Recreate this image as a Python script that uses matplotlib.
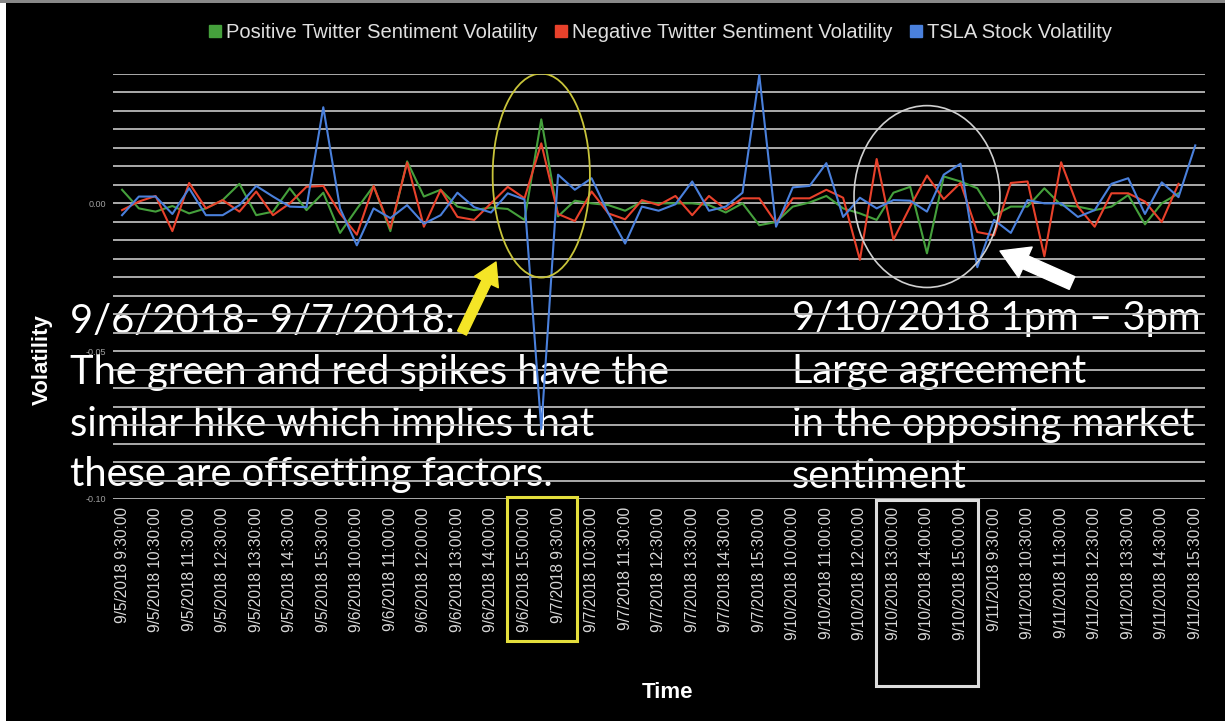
import numpy as np
import matplotlib.pyplot as plt
from matplotlib.patches import Ellipse, Rectangle, FancyArrowPatch
from matplotlib.lines import Line2D

W, H = 1225, 721

# half-hourly volatility, 9/5/2018 9:30 -> 9/11/2018 15:30 (65 points)
positive_vol = [
    0.0046, -0.0017, -0.0028, -0.0009, -0.0034, -0.0017, 0.0011, 0.0066, -0.0040, -0.0028,
    0.0051, -0.0023, 0.0036, -0.0100, -0.0019, 0.0059, -0.0094, 0.0142, 0.0023, 0.0046,
    -0.0011, -0.0023, -0.0014, -0.0019, -0.0056, 0.0284, -0.0044, 0.0009, 0.0000, -0.0006,
    -0.0025, 0.0006, 0.0000, 0.0000, 0.0000, -0.0006, -0.0031, 0.0000, -0.0074, -0.0063,
    -0.0011, 0.0003, 0.0025, -0.0017, -0.0034, -0.0056, 0.0036, 0.0056, -0.0169, 0.0091,
    0.0074, 0.0051, -0.0040, -0.0011, -0.0011, 0.0051, -0.0006, -0.0011, -0.0023, -0.0011,
    0.0028, -0.0071, 0.0000, 0.0034, np.nan,
]
negative_vol = [
    -0.0023, 0.0006, 0.0025, -0.0094, 0.0069, -0.0017, 0.0011, -0.0028, 0.0040, -0.0040,
    0.0000, 0.0056, 0.0059, -0.0034, -0.0106, 0.0059, -0.0085, 0.0138, -0.0079, 0.0046,
    -0.0046, -0.0056, 0.0000, 0.0056, 0.0017, 0.0203, -0.0036, -0.0060, 0.0040, -0.0034,
    -0.0054, 0.0011, -0.0006, 0.0025, -0.0040, 0.0025, -0.0021, 0.0017, 0.0017, -0.0066,
    0.0017, 0.0017, 0.0046, 0.0019, -0.0191, 0.0150, -0.0123, -0.0011, 0.0094, 0.0014,
    0.0069, -0.0097, -0.0108, 0.0069, 0.0074, -0.0179, 0.0139, -0.0011, -0.0079, 0.0034,
    0.0034, 0.0006, -0.0063, 0.0066, np.nan,
]
tsla_vol = [
    -0.0040, 0.0023, 0.0023, -0.0036, 0.0051, -0.0040, -0.0040, -0.0006, 0.0059, 0.0023,
    -0.0011, -0.0013, 0.0325, -0.0017, -0.0142, -0.0017, -0.0050, -0.0006, -0.0069, -0.0040,
    0.0036, -0.0013, -0.0031, 0.0034, 0.0013, -0.0763, 0.0097, 0.0046, 0.0085, -0.0034,
    -0.0136, -0.0011, -0.0025, -0.0003, 0.0074, -0.0025, -0.0011, 0.0036, 0.0434, -0.0079,
    0.0054, 0.0059, 0.0136, -0.0046, 0.0019, -0.0017, 0.0011, 0.0009, -0.0028, 0.0097,
    0.0134, -0.0216, -0.0056, -0.0100, 0.0011, 0.0000, 0.0000, -0.0046, -0.0023, 0.0066,
    0.0085, -0.0036, 0.0071, 0.0021, 0.0196,
]

# every second timestamp is labelled on the axis
tick_labels = [
    "9/5/2018 9:30:00", "9/5/2018 10:30:00", "9/5/2018 11:30:00", "9/5/2018 12:30:00",
    "9/5/2018 13:30:00", "9/5/2018 14:30:00", "9/5/2018 15:30:00", "9/6/2018 10:00:00",
    "9/6/2018 11:00:00", "9/6/2018 12:00:00", "9/6/2018 13:00:00", "9/6/2018 14:00:00",
    "9/6/2018 15:00:00", "9/7/2018 9:30:00", "9/7/2018 10:30:00", "9/7/2018 11:30:00",
    "9/7/2018 12:30:00", "9/7/2018 13:30:00", "9/7/2018 14:30:00", "9/7/2018 15:30:00",
    "9/10/2018 10:00:00", "9/10/2018 11:00:00", "9/10/2018 12:00:00", "9/10/2018 13:00:00",
    "9/10/2018 14:00:00", "9/10/2018 15:00:00", "9/11/2018 9:30:00", "9/11/2018 10:30:00",
    "9/11/2018 11:30:00", "9/11/2018 12:30:00", "9/11/2018 13:30:00", "9/11/2018 14:30:00",
    "9/11/2018 15:30:00",
]

series_names = ["Positive Twitter Sentiment Volatility",
                "Negative Twitter Sentiment Volatility",
                "TSLA Stock Volatility"]
colors = ["#45a03c", "#e8412b", "#4a80dc"]

left_note = ["9/6/2018- 9/7/2018:", "The green and red spikes have the",
             "similar hike which implies that", "these are offsetting factors."]
right_note = ["9/10/2018 1pm \u2013 3pm", "Large agreement",
              "in the opposing market", "sentiment"]


def px(x, y):
    # pixel position (from top-left) -> figure fraction
    return x / W, 1 - y / H


plt.rcParams['font.family'] = ['Liberation Sans', 'DejaVu Sans']

fig = plt.figure(figsize=(W / 100, H / 100), dpi=100, facecolor="black")
fig.add_artist(Rectangle((0, 0), 6 / W, 1, transform=fig.transFigure,
                         facecolor="white", edgecolor="none"))
fig.add_artist(Rectangle(px(0, 3), 1, 3 / H, transform=fig.transFigure,
                         facecolor="#888888", edgecolor="none"))

x0, y1 = px(113, 74)
x1, y0 = px(1205, 499)
ax = fig.add_axes([x0, y0, x1 - x0, y1 - y0])
ax.set_facecolor("black")

x = np.arange(len(tsla_vol))
for vals, c in zip([positive_vol, negative_vol, tsla_vol], colors):
    ax.plot(x, vals, color=c, lw=1.5, zorder=2, clip_on=False)

step = 0.00625
ax.set_ylim(-0.10, 7 * step)
ax.set_xlim(-0.54, 64.58)
yt = np.arange(-16, 8) * step
ax.set_yticks(yt)
ax.set_yticklabels(["%.2f" % v if k in (0, 8, 16) else "" for k, v in enumerate(yt)])
ax.set_xticks(x[::2])
ax.set_xticklabels(tick_labels, rotation=90, fontsize=11.2, color="#d8d8d8")
ax.tick_params(axis="x", length=0, pad=6)
ax.tick_params(axis="y", length=0, pad=5, labelsize=6.5, labelcolor="#a0a0a0")
ax.set_axisbelow("line")
ax.grid(axis="y", color="#b8b8b8", lw=1.3)
for s in ax.spines.values():
    s.set_visible(False)

# circled regions
ax.add_patch(Ellipse((25.0, 0.0094), 5.8, 0.069, fill=False,
                     edgecolor="#c8c43a", lw=1.3, zorder=3))
ax.add_patch(Ellipse((48.0, 0.0023), 8.7, 0.0615, fill=False,
                     edgecolor="#d0d0d0", lw=1.2, zorder=3))

# notes behind the gridlines
for yb, line in zip([333, 384, 436, 486], left_note):
    ax.text(*px(70, yb), line, transform=fig.transFigure, fontsize=28.7,
            family="Lato", color="white", va="baseline", zorder=1, clip_on=False)
for yb, line in zip([330, 383, 436, 488], right_note):
    ax.text(*px(792, yb), line, transform=fig.transFigure, fontsize=28.7,
            family="Lato", color="white", va="baseline", zorder=1, clip_on=False)

# boxes around the tick labels
for (a, b, c, d), ec in [((507, 497, 577, 641), "#e4de3c"), ((876, 500, 978, 686), "#dddddd")]:
    fig.add_artist(Rectangle(px(a, d), (c - a) / W, (d - b) / H, transform=fig.transFigure,
                             fill=False, edgecolor=ec, lw=2.2))

fig.add_artist(FancyArrowPatch(px(462, 333), px(496, 262), transform=fig.transFigure,
                               arrowstyle="simple,head_length=16,head_width=19,tail_width=7",
                               color="#f4e526", shrinkA=0, shrinkB=0))
fig.add_artist(FancyArrowPatch(px(1072, 283), px(1000, 251), transform=fig.transFigure,
                               arrowstyle="simple,head_length=20,head_width=24,tail_width=10",
                               color="white", shrinkA=0, shrinkB=0))

fig.text(*px(42, 360), "Volatility", rotation=90, fontsize=16, fontweight="bold",
         color="white", ha="center", va="center")
fig.text(*px(668, 692), "Time", fontsize=16, fontweight="bold",
         color="white", ha="center", va="center")

handles = [Line2D([], [], marker="s", ls="none", color=c, markersize=8) for c in colors]
fig.legend(handles, series_names, loc="center", bbox_to_anchor=px(659, 33), ncol=3,
           frameon=False, fontsize=14.5, labelcolor="#e0e0e0", handletextpad=0.1,
           columnspacing=0.7, handlelength=0.9)

fig.savefig("out.png", dpi=100, facecolor=fig.get_facecolor())
